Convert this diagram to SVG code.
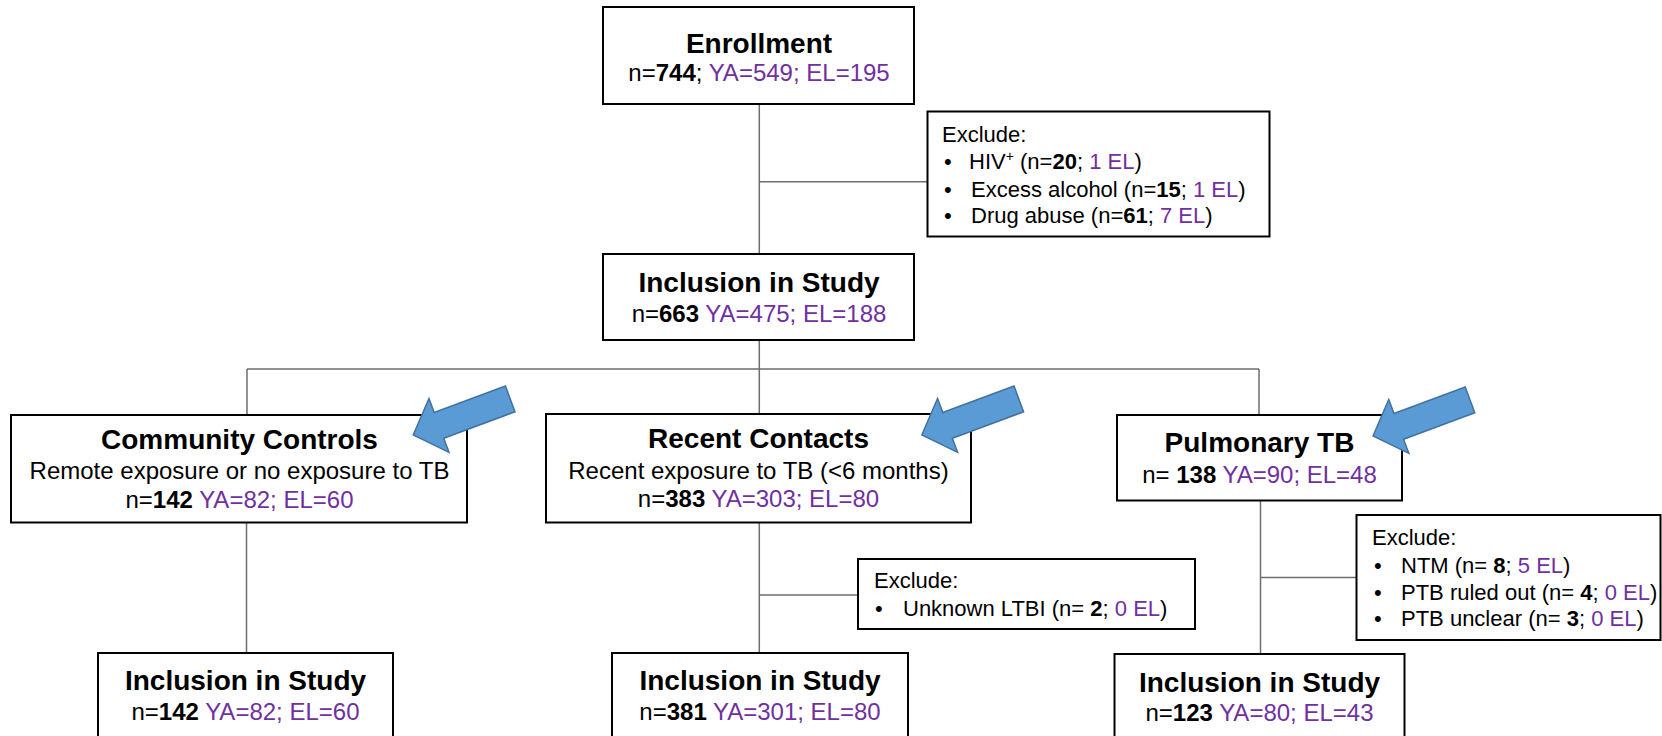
<svg xmlns="http://www.w3.org/2000/svg" xmlns:xlink="http://www.w3.org/1999/xlink" width="1662" height="736" viewBox="0 0 1662 736">
<defs>
<style>
.box{fill:#fff;stroke:#000;stroke-width:2}
.ln{fill:none;stroke:#6e6e6e;stroke-width:1.5}
text{font-family:"Liberation Sans",Arial,sans-serif;fill:#000}
.t{font-size:28px;font-weight:bold;text-anchor:middle}
.b{font-size:24px;text-anchor:middle}
.x{font-size:22px}
.bd{font-weight:bold}
.p{fill:#7030A0}
.arr{fill:#5B9BD5;stroke:#41719C;stroke-width:1.5;stroke-linejoin:miter}
</style>
<path id="arrow" d="M0,0 L27.5,-28.7 L27.5,-13.7 L103.5,-13.7 L103.5,13.7 L27.5,13.7 L27.5,28.7 Z"/>
</defs>
<rect width="1662" height="736" fill="#fff"/>
<g id="connectors">
<path class="ln" d="M759.3 104 V254 M759.3 181.7 H927.5 M759.3 340 V414 M247 369 H1259 M247 369 V415 M1259 369 V415 M246.5 522.5 V653 M759.3 522.5 V653 M759.3 595 H858 M1260.5 500.5 V654 M1260.5 577.5 H1356.5"/>
</g>
<g id="enrollment">
<rect class="box" x="603" y="7" width="311" height="97"/>
<text class="t" x="759" y="53">Enrollment</text>
<text class="b" x="759" y="81">n=<tspan class="bd">744</tspan>; <tspan class="p">YA=549; EL=195</tspan></text>
</g>
<g id="exclude1">
<rect class="box" x="927.5" y="111.5" width="342" height="125"/>
<text class="x" x="942" y="142">Exclude:</text>
<text class="x" x="944" y="169">•</text>
<text class="x" x="969" y="169">HIV<tspan font-size="14" dy="-8">+</tspan><tspan dy="8"> (n=</tspan><tspan class="bd">20</tspan>; <tspan class="p">1 EL</tspan>)</text>
<text class="x" x="944" y="197">•</text>
<text class="x" x="971" y="197">Excess alcohol (n=<tspan class="bd">15</tspan>; <tspan class="p">1 EL</tspan>)</text>
<text class="x" x="944" y="223">•</text>
<text class="x" x="971" y="223">Drug abuse (n=<tspan class="bd">61</tspan>; <tspan class="p">7 EL</tspan>)</text>
</g>
<g id="inclusion">
<rect class="box" x="603" y="254" width="311" height="86"/>
<text class="t" x="759" y="292">Inclusion in Study</text>
<text class="b" x="759" y="322">n=<tspan class="bd">663</tspan> <tspan class="p">YA=475; EL=188</tspan></text>
</g>
<g id="community">
<rect class="box" x="11" y="415" width="456" height="107.5"/>
<text class="t" x="239.5" y="449">Community Controls</text>
<text class="b" x="239.5" y="479">Remote exposure or no exposure to TB</text>
<text class="b" x="239.5" y="508">n=<tspan class="bd">142</tspan> <tspan class="p">YA=82; EL=60</tspan></text>
</g>
<g id="recent">
<rect class="box" x="546" y="414" width="425" height="108.5"/>
<text class="t" x="758.5" y="448">Recent Contacts</text>
<text class="b" x="758.5" y="479">Recent exposure to TB (&lt;6 months)</text>
<text class="b" x="758.5" y="507">n=<tspan class="bd">383</tspan> <tspan class="p">YA=303; EL=80</tspan></text>
</g>
<g id="pulmonary">
<rect class="box" x="1117" y="415" width="285" height="85.5"/>
<text class="t" x="1259.5" y="452">Pulmonary TB</text>
<text class="b" x="1259.5" y="483">n= <tspan class="bd">138</tspan> <tspan class="p">YA=90; EL=48</tspan></text>
</g>
<g id="exclude2">
<rect class="box" x="858" y="559" width="337" height="70"/>
<text class="x" x="874" y="588">Exclude:</text>
<text class="x" x="875" y="616">•</text>
<text class="x" x="903" y="616">Unknown LTBI (n= <tspan class="bd">2</tspan>; <tspan class="p">0 EL</tspan>)</text>
</g>
<g id="exclude3">
<rect class="box" x="1356.5" y="515" width="304" height="125"/>
<text class="x" x="1372" y="545">Exclude:</text>
<text class="x" x="1374" y="573">•</text>
<text class="x" x="1401" y="573">NTM (n= <tspan class="bd">8</tspan>; <tspan class="p">5 EL</tspan>)</text>
<text class="x" x="1374" y="600">•</text>
<text class="x" x="1401" y="600">PTB ruled out (n= <tspan class="bd">4</tspan>; <tspan class="p">0 EL</tspan>)</text>
<text class="x" x="1374" y="626">•</text>
<text class="x" x="1401" y="626">PTB unclear (n= <tspan class="bd">3</tspan>; <tspan class="p">0 EL</tspan>)</text>
</g>
<g id="inclusion-cc">
<rect class="box" x="98" y="653" width="295" height="100"/>
<text class="t" x="245.5" y="690">Inclusion in Study</text>
<text class="b" x="245.5" y="720">n=<tspan class="bd">142</tspan> <tspan class="p">YA=82; EL=60</tspan></text>
</g>
<g id="inclusion-rc">
<rect class="box" x="612" y="653" width="296" height="100"/>
<text class="t" x="760" y="690">Inclusion in Study</text>
<text class="b" x="760" y="720">n=<tspan class="bd">381</tspan> <tspan class="p">YA=301; EL=80</tspan></text>
</g>
<g id="inclusion-ptb">
<rect class="box" x="1114.5" y="654" width="290" height="100"/>
<text class="t" x="1259.5" y="692">Inclusion in Study</text>
<text class="b" x="1259.5" y="721">n=<tspan class="bd">123</tspan> <tspan class="p">YA=80; EL=43</tspan></text>
</g>
<g id="arrows">
<use xlink:href="#arrow" class="arr" transform="translate(413.2,435) rotate(-20.4)"/>
<use xlink:href="#arrow" class="arr" transform="translate(921.8,435) rotate(-20.4)"/>
<use xlink:href="#arrow" class="arr" transform="translate(1373,436) rotate(-20.4)"/>
</g>
</svg>
